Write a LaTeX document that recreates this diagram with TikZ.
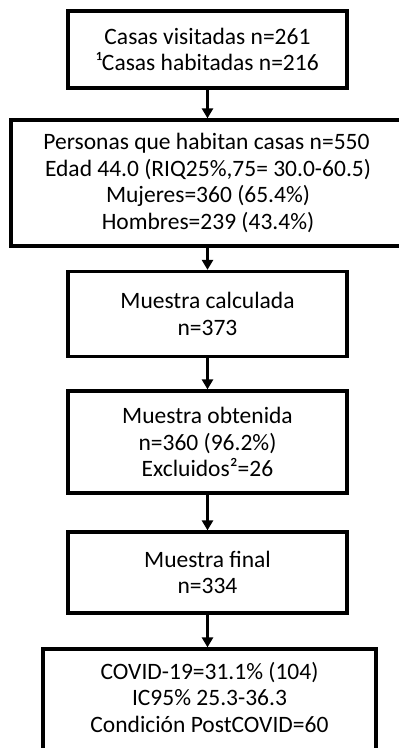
\documentclass[tikz,border=0pt]{standalone}
\usepackage{fontspec}
\setmainfont{Carlito}
\usetikzlibrary{arrows.meta}
\tikzset{
  txt/.style={align=center, inner sep=0pt, font=\fontsize{23.5}{26.5}\selectfont},
  box/.style={txt, draw=black, line width=3.3pt, minimum width=279pt},
  flow/.style={line width=3pt, -{Triangle[width=11pt,length=10pt]}}
}
\begin{document}
\begin{tikzpicture}[x=1pt,y=-1pt]
\useasboundingbox (0,0) rectangle (399,748);
\clip (0,0) rectangle (399,748);
\fill[white] (0,0) rectangle (399,748);
\node[box, minimum height=77pt] (b1) at (207.5,49.5)
  {Casas visitadas n=261\\ ¹Casas habitadas n=216};
\node[box, minimum width=394pt, minimum height=126pt] (b2) at (208,183)
  {\hspace*{-3pt}Personas que habitan casas n=550\\ Edad 44.0 (RIQ25\%,75= 30.0-60.5)\\ Mujeres=360 (65.4\%)\\ Hombres=239 (43.4\%)};
\node[box, minimum height=85pt] (b3) at (207.5,314)
  {Muestra calculada\\ n=373};
\node[box, minimum height=102pt] (b4) at (207.5,442)
  {Muestra obtenida\\ n=360 (96.2\%)\\ Excluidos²=26};
\node[box, minimum height=81pt] (b5) at (207.5,572.5)
  {Muestra final\\ n=334};
\node[box, minimum width=333pt, minimum height=102pt] (b6) at (209.5,700) {};
\node[txt] (b6t) at (209.5,697)
  {COVID-19=31.1\% (104)\\ IC95\% 25.3-36.3\\ Condición PostCOVID=60};
\draw[flow] (b1.south) -- (b1.south |- b2.north);
\draw[flow] (b3.north |- b2.south) -- (b3.north);
\draw[flow] (b3.south) -- (b4.north);
\draw[flow] (b4.south) -- (b5.north);
\draw[flow] (b5.south) -- (b5.south |- b6.north);
\end{tikzpicture}
\end{document}
